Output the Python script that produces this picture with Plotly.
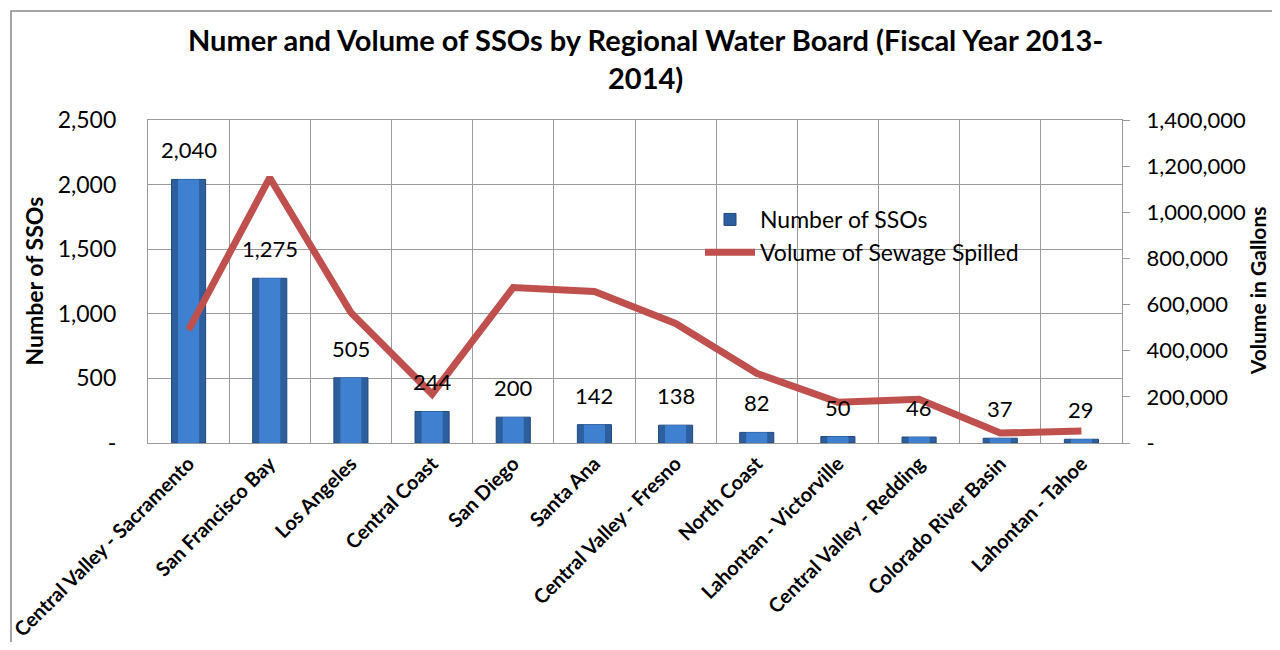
import plotly.graph_objects as go

regions = ["Central Valley - Sacramento", "San Francisco Bay", "Los Angeles", "Central Coast",
           "San Diego", "Santa Ana", "Central Valley - Fresno", "North Coast",
           "Lahontan - Victorville", "Central Valley - Redding", "Colorado River Basin", "Lahontan - Tahoe"]
num_ssos = [2040, 1275, 505, 244, 200, 142, 138, 82, 50, 46, 37, 29]
volume_gal = [490000, 1150000, 565000, 212000, 674000, 657000, 518000, 302000, 177000, 190000, 43000, 52000]

left_ticks = [0, 500, 1000, 1500, 2000, 2500]
left_text = ["-", "500", "1,000", "1,500", "2,000", "2,500"]
right_ticks = [0, 200000, 400000, 600000, 800000, 1000000, 1200000, 1400000]
right_text = ["-", "200,000", "400,000", "600,000", "800,000", "1,000,000", "1,200,000", "1,400,000"]

font = "Lato, Open Sans, sans-serif"
grid = "#9A9A9A"

# page body has an 8px margin, so the figure is 1264x634 and sits at (8, 8)
W, H = 1264, 634
L, R, T, B = 140, 150, 112, 199
PW, PH = W - L - R, H - T - B

fig = go.Figure()

# bars: darker outer body + lighter core to hint at the bevelled look
fig.add_trace(go.Bar(
    x=regions, y=num_ssos, name="Number of SSOs",
    marker=dict(color="#2D5E9E", line=dict(color="#21497D", width=1)),
    width=0.42,
))
fig.add_trace(go.Bar(
    x=regions, y=num_ssos, showlegend=False, hoverinfo="skip",
    marker=dict(color="#3F80D0", line=dict(width=0)),
    width=0.26,
))

# volume line
fig.add_trace(go.Scatter(
    x=regions, y=volume_gal, name="Volume of Sewage Spilled", yaxis="y2",
    mode="lines", line=dict(color="#C0504D", width=7),
))

annotations = []
for r, v in zip(regions, num_ssos):
    annotations.append(dict(x=r, y=v, xref="x", yref="y", text=f"{v:,}", showarrow=False,
                            yanchor="bottom", yshift=14, font=dict(size=22, family=font)))

# title
annotations.append(dict(x=(637 - L) / PW, y=1 + (T - 12) / PH, xref="paper", yref="paper",
                        text="<b>Numer and Volume of SSOs by Regional Water Board (Fiscal Year 2013-<br>2014)</b>",
                        showarrow=False, xanchor="center", yanchor="top", align="center",
                        font=dict(size=29, family=font)))

annotations.append(dict(x=(25 - L) / PW, y=0.5, xref="paper", yref="paper", text="<b>Number of SSOs</b>",
                        textangle=-90, showarrow=False, xanchor="center", yanchor="middle",
                        font=dict(size=23, family=font)))
annotations.append(dict(x=(1249 - L) / PW, y=0.47, xref="paper", yref="paper", text="<b>Volume in Gallons</b>",
                        textangle=-90, showarrow=False, xanchor="center", yanchor="middle",
                        borderpad=0, font=dict(size=21, family=font)))

fig.update_layout(
    width=W, height=H,
    margin=dict(l=L, r=R, t=T, b=B),
    paper_bgcolor="white", plot_bgcolor="white",
    font=dict(family=font, color="#000000"),
    showlegend=True,
    legend=dict(x=(692 - L) / PW, y=(435 - 190) / PH, xanchor="left", yanchor="top",
                bgcolor="rgba(0,0,0,0)", font=dict(size=23, family=font),
                itemwidth=50, tracegroupgap=0),
    barmode="overlay",
    annotations=annotations,
    xaxis=dict(
        type="category", tickson="boundaries", showgrid=True, gridcolor=grid, gridwidth=1.3,
        showline=True, linecolor=grid, linewidth=1.3, mirror=True,
        tickangle=-45, tickfont=dict(size=20, family=font, weight="bold"),
        ticks="", automargin=False,
    ),
    yaxis=dict(
        range=[0, 2500], tickvals=left_ticks, ticktext=left_text,
        showgrid=True, gridcolor=grid, gridwidth=1.3,
        showline=True, linecolor=grid, linewidth=1.3,
        tickfont=dict(size=23, family=font), ticks="", ticklabelstandoff=26,
        zeroline=False, automargin=False,
    ),
    yaxis2=dict(
        range=[0, 1400000], tickvals=right_ticks, ticktext=right_text,
        overlaying="y", side="right", showgrid=False,
        showline=True, linecolor=grid, linewidth=1.3,
        ticks="outside", ticklen=7, tickcolor=grid, tickwidth=1.3,
        tickfont=dict(size=22, family=font), ticklabelstandoff=12,
        zeroline=False, automargin=False,
    ),
)

# outer chart border (only top and left edges fall inside the picture)
fig.add_shape(type="rect", xref="paper", yref="paper",
              x0=(3 - L) / PW, x1=(W + 10 - L) / PW, y0=(T + PH - H - 10) / PH, y1=(T + PH - 3) / PH,
              line=dict(color="#888888", width=1.5), fillcolor="rgba(0,0,0,0)", layer="below")

fig.write_html("out.html")
